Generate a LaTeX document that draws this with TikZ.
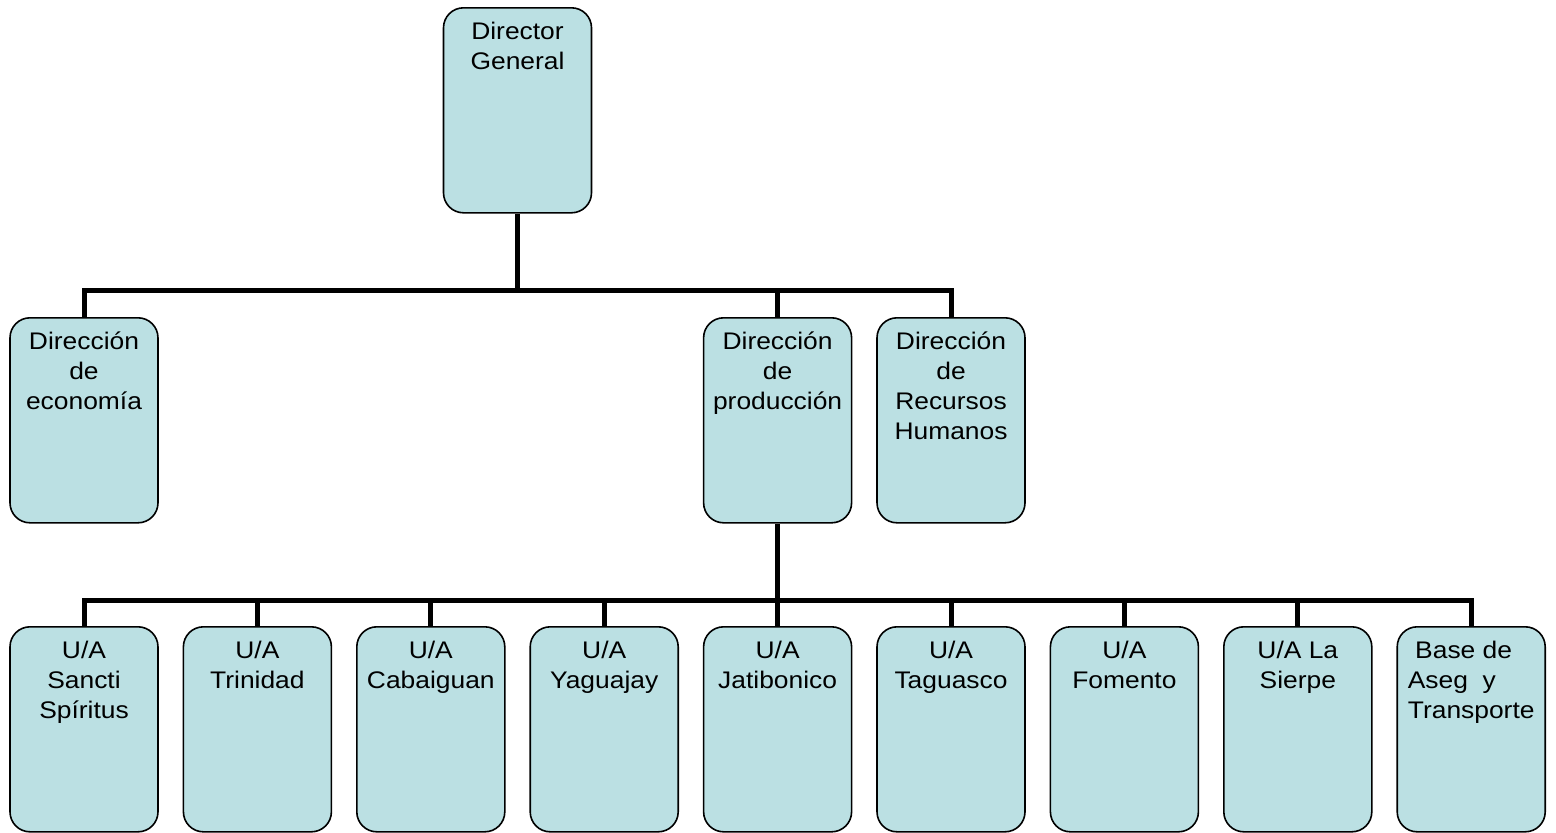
\documentclass[tikz,border=0pt]{standalone}
\usepackage{fontspec}
\setmainfont{Liberation Sans}[FakeStretch=1.1]
\usepackage{tikz}

% text block inside a box: fixed height, first line at the top
\newcommand{\boxlabel}[1]{\parbox[t][93pt][t]{72pt}{\centering\rule{0pt}{11pt}#1}}

\begin{document}
\begin{tikzpicture}[x=0.5pt, y=-0.5pt, font=\fontsize{12}{15}\selectfont,
    orgbox/.style={draw=black, line width=0.8pt, rounded corners=10pt, fill=boxBlue,
        anchor=north, inner xsep=1pt, inner ysep=4.75pt,
        minimum width=74pt, minimum height=102.5pt},
    link/.style={draw=black, line width=2.5pt}]

    % Define colors
    \definecolor{boxBlue}{RGB}{187, 224, 227}

    \useasboundingbox (0,0) rectangle (1556,832);

    % === TOP LEVEL ===
    \node[orgbox] (dg) at (517.5, 7) {\boxlabel{Director\\General}};

    % === DIRECTIONS ===
    \node[orgbox] (econ) at (84, 317)    {\boxlabel{Dirección\\de\\economía}};
    \node[orgbox] (prod) at (777.6, 317) {\boxlabel{Dirección\\de\\producción}};
    \node[orgbox] (rrhh) at (951, 317)   {\boxlabel{Dirección\\de\\Recursos\\Humanos}};

    % === PRODUCTION UNITS ===
    \node[orgbox] (ssp)    at (84, 626)     {\boxlabel{U/A\\Sancti\\Spíritus}};
    \node[orgbox] (trin)   at (257.4, 626)  {\boxlabel{U/A\\Trinidad}};
    \node[orgbox] (cab)    at (430.8, 626)  {\boxlabel{U/A\\Cabaiguan}};
    \node[orgbox] (yag)    at (604.2, 626)  {\boxlabel{U/A\\Yaguajay}};
    \node[orgbox] (jat)    at (777.6, 626)  {\boxlabel{U/A\\Jatibonico}};
    \node[orgbox] (tag)    at (951, 626)    {\boxlabel{U/A\\Taguasco}};
    \node[orgbox] (fom)    at (1124.4, 626) {\boxlabel{U/A\\Fomento}};
    \node[orgbox] (sierpe) at (1297.8, 626) {\boxlabel{U/A La\\Sierpe}};
    \node[orgbox] (base)   at (1471.2, 626)
        {\boxlabel{\begin{tabular}[t]{@{}l@{}}\ Base de\\Aseg\ \ y\\Transporte\end{tabular}}};

    % === CONNECTORS ===
    \coordinate (busA) at (0, 290);
    \coordinate (busB) at (0, 600);

    % director -> directions
    \draw[link] (dg.south) -- (dg.south |- busA);
    \draw[link] (econ.north) |- (busA -| rrhh.north) -- (rrhh.north);
    \draw[link] (prod.north) -- (prod.north |- busA);

    % production -> units
    \draw[link] (prod.south) -- (prod.south |- busB);
    \draw[link] (ssp.north) |- (busB -| base.north) -- (base.north);
    \foreach \n in {trin, cab, yag, jat, tag, fom, sierpe} {
        \draw[link] (\n.north) -- (\n.north |- busB);
    }

\end{tikzpicture}
\end{document}
